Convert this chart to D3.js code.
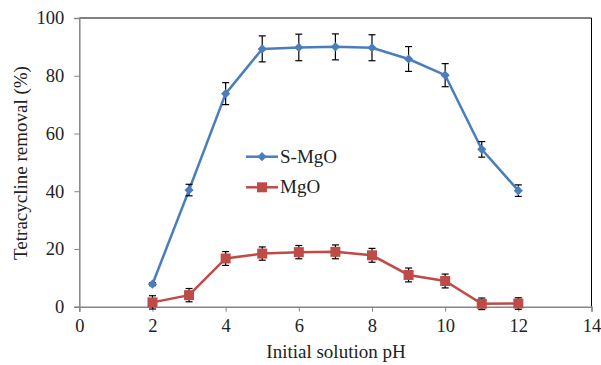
<!DOCTYPE html>
<html><head><meta charset="utf-8">
<script src="https://cdn.jsdelivr.net/npm/d3@7/dist/d3.min.js"></script>
<style>body{margin:0;background:#fff}svg{display:block}text{font-family:"Liberation Serif","Times New Roman",serif;fill:#222}</style>
</head><body><svg id="c" width="601" height="365"></svg>
<script>
const pH = [2,3,4,5,6,7,8,9,10,11,12];
const sMgO = [7.8,40.4,73.8,89.3,89.8,90.0,89.7,85.8,80.2,54.5,40.2];
const sMgOErr = [0.5,2.0,3.8,4.5,4.6,4.5,4.5,4.3,4.0,2.7,2.0];
const mgO = [1.5,4.0,16.7,18.4,18.9,19.0,17.8,11.0,8.9,1.0,1.1];
const mgOErr = [2.3,2.3,2.4,2.3,2.3,2.4,2.4,2.4,2.4,2.0,2.0];
const xTicks = [0,2,4,6,8,10,12,14];
const yTicks = [0,20,40,60,80,100];
const seriesNames = ["S-MgO","MgO"];

const svg = d3.select("#c");
const L=79.3,R=591.5,T=18,B=306.7;
const x = d3.scaleLinear().domain([0,14]).range([L,R]);
const y = d3.scaleLinear().domain([0,100]).range([B,T]);

svg.append("line").attr("x1",L).attr("x2",R).attr("y1",T).attr("y2",T).attr("stroke","#000").attr("stroke-width",1);
svg.append("line").attr("x1",R).attr("x2",R).attr("y1",T).attr("y2",B).attr("stroke","#000").attr("stroke-width",1);

const axisColor="#868686";
const gx = svg.append("g").attr("transform",`translate(0,${B})`).call(d3.axisBottom(x).tickValues(xTicks).tickSize(5).tickPadding(7));
const gy = svg.append("g").attr("transform",`translate(${L},0)`).call(d3.axisLeft(y).tickValues(yTicks).tickSize(5).tickPadding(10));
[gx,gy].forEach(g=>{
  g.attr("font-family",null);
  g.select(".domain").attr("stroke",axisColor).attr("stroke-width",1.5);
  g.selectAll(".tick line").attr("stroke",axisColor);
  g.selectAll(".tick text").style("font-family",'"Liberation Serif",serif').style("font-size","18.5px").attr("fill","#222");
});

svg.append("text").attr("x",336).attr("y",358).attr("text-anchor","middle").style("font-size","19px").text("Initial solution pH");
svg.append("text").attr("transform","translate(27,163) rotate(-90)").attr("text-anchor","middle").style("font-size","19px").text("Tetracycline removal (%)");

const blue="#4A7EBB", red="#BE4B48";
const line = d3.line().x((d,i)=>x(pH[i])).y(d=>y(d));

function errBars(vals, errs){
  const g = svg.append("g").attr("stroke","#000").attr("stroke-width",1.2);
  vals.forEach((v,i)=>{
    const cx=x(pH[i]), y1=y(v+errs[i]), y2=y(v-errs[i]);
    g.append("line").attr("x1",cx).attr("x2",cx).attr("y1",y1).attr("y2",y2);
    g.append("line").attr("x1",cx-3.5).attr("x2",cx+3.5).attr("y1",y1).attr("y2",y1);
    g.append("line").attr("x1",cx-3.5).attr("x2",cx+3.5).attr("y1",y2).attr("y2",y2);
  });
}

const sq = 10;
svg.append("path").datum(mgO).attr("d",line).attr("fill","none").attr("stroke",red).attr("stroke-width",2.5);
errBars(mgO,mgOErr);
svg.append("g").selectAll("rect").data(mgO).join("rect")
  .attr("x",(d,i)=>x(pH[i])-sq/2).attr("y",d=>y(d)-sq/2).attr("width",sq).attr("height",sq).attr("fill",red);

svg.append("path").datum(sMgO).attr("d",line).attr("fill","none").attr("stroke",blue).attr("stroke-width",2.5);
errBars(sMgO,sMgOErr);
const diamond = d3.symbol().type(d3.symbolSquare).size(42);
svg.append("g").selectAll("path").data(sMgO).join("path")
  .attr("d",diamond).attr("transform",(d,i)=>`translate(${x(pH[i])},${y(d)}) rotate(45)`).attr("fill",blue);

const leg = [{n:seriesNames[0],c:blue,ty:156.7,m:"d"},{n:seriesNames[1],c:red,ty:187.3,m:"s"}];
leg.forEach(l=>{
  svg.append("line").attr("x1",246).attr("x2",278).attr("y1",l.ty).attr("y2",l.ty).attr("stroke",l.c).attr("stroke-width",2.5);
  if(l.m==="d") svg.append("path").attr("d",diamond).attr("transform",`translate(262,${l.ty}) rotate(45)`).attr("fill",l.c);
  else svg.append("rect").attr("x",262-sq/2).attr("y",l.ty-sq/2).attr("width",sq).attr("height",sq).attr("fill",l.c);
  svg.append("text").attr("x",280).attr("y",l.ty+6).style("font-size","19px").text(l.n);
});
</script></body></html>
